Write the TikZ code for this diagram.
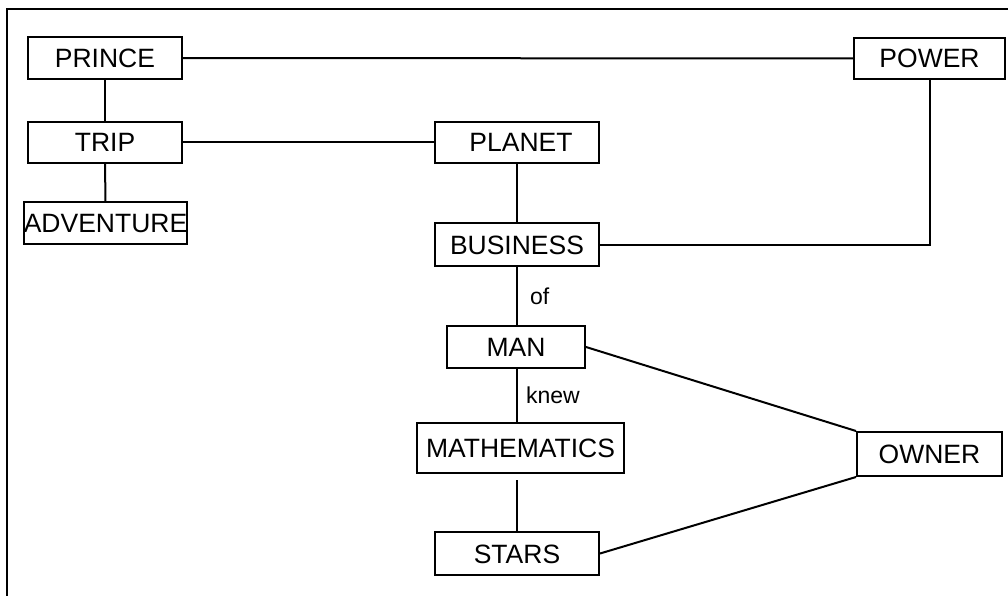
\documentclass[tikz,border=0pt]{standalone}
\usepackage{fontspec}
\setmainfont{Liberation Sans}
\begin{document}
\begin{tikzpicture}[x=1pt,y=-1pt,
  concept/.style={draw, line width=2pt, rectangle, inner sep=0pt,
    font=\fontsize{26.5}{26.5}\selectfont, text height=19pt, text depth=0pt},
  link/.style={line width=2pt},
  verb/.style={font=\fontsize{23}{23}\selectfont, inner sep=0pt, anchor=west}]
\useasboundingbox (0,0) rectangle (1008,596);
% open frame: top and left rules only
\coordinate (frameTL) at (7,9);
\coordinate (frameTR) at (1008,9);
\coordinate (frameBL) at (7,596);
\draw[link] (frameTR) -- (frameTL) -- (frameBL);

% concepts
\node[concept, minimum width=154pt, minimum height=42pt] (prince) at (105,58) {PRINCE};
\node[concept, minimum width=151pt, minimum height=41pt] (power) at (929.5,58.5) {POWER};
\node[concept, minimum width=154pt, minimum height=41pt] (trip) at (105,142.5) {TRIP\hspace{22pt}};
\node[concept, minimum width=164pt, minimum height=41pt] (planet) at (517,142.5) {\hspace{8pt}PLANET};
\node[concept, minimum width=163pt, minimum height=42pt] (adventure) at (105.5,223) {ADVENTURE};
\node[concept, minimum width=164pt, minimum height=43pt] (business) at (517,244.5) {BUSINESS\hspace{16pt}};
\node[concept, minimum width=138pt, minimum height=42pt] (man) at (516,347) {MAN};
\node[concept, minimum width=207pt, minimum height=50pt] (maths) at (520.5,448) {MATHEMATICS};
\node[concept, minimum width=164pt, minimum height=43pt] (stars) at (517,553.5) {STARS};
\node[concept, minimum width=145pt, minimum height=44pt] (owner) at (929.5,454) {OWNER};

% links
\draw[link] (prince) -- (trip);
\draw[link] (trip) -- (adventure);
\draw[link] (prince) -- (power);
\draw[link] (trip) -- (planet);
\draw[link] (planet) -- (business);
\draw[link] (power.south) |- (business.east);
\draw[link] (business.south) -- node[verb, xshift=12pt] (of) {of} (business.south |- man.north);
\draw[link] (business.south |- man.south) -- node[verb, xshift=8pt] (knew) {knew} (business.south |- maths.north);
\draw[link, shorten <=6pt] (stars.north |- maths.south) -- (stars.north);
\draw[link] (man.east) -- (owner.north west);
\draw[link] (stars.east) -- (owner.south west);
\end{tikzpicture}
\end{document}
